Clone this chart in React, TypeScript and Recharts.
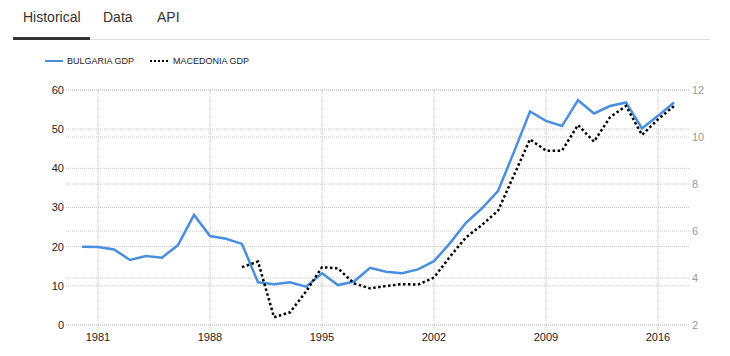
import { CartesianGrid, Line, LineChart, XAxis, YAxis } from "recharts";

const years = [
  1980, 1981, 1982, 1983, 1984, 1985, 1986, 1987, 1988, 1989, 1990, 1991, 1992,
  1993, 1994, 1995, 1996, 1997, 1998, 1999, 2000, 2001, 2002, 2003, 2004, 2005,
  2006, 2007, 2008, 2009, 2010, 2011, 2012, 2013, 2014, 2015, 2016, 2017
];

// USD billion, left axis
const bulgariaGdp = [
  20.0, 19.9, 19.3, 16.6, 17.6, 17.2, 20.4, 28.1, 22.7, 22.0, 20.7, 10.9, 10.4,
  10.9, 9.8, 13.2, 10.2, 11.1, 14.6, 13.6, 13.2, 14.2, 16.3, 20.9, 26.1, 29.8,
  34.2, 44.2, 54.5, 52.1, 50.8, 57.4, 54.0, 55.9, 56.8, 50.2, 53.4, 56.8
];

// USD billion, right axis (no data before 1990)
const macedoniaGdp = [
  null, null, null, null, null, null, null, null, null, null, 4.46, 4.7, 2.33,
  2.54, 3.42, 4.46, 4.41, 3.77, 3.56, 3.66, 3.74, 3.72, 4.02, 4.91, 5.73, 6.26,
  6.86, 8.38, 9.9, 9.42, 9.42, 10.51, 9.8, 10.84, 11.32, 10.09, 10.75, 11.32
];

const xTicks = [1981, 1988, 1995, 2002, 2009, 2016];
const leftTicks = [0, 10, 20, 30, 40, 50, 60];
const rightTicks = [2, 4, 6, 8, 10, 12];
const tabs = ["Historical", "Data", "API"];

const data = years.map((year, i) => ({
  year,
  bulgaria: bulgariaGdp[i],
  macedonia: macedoniaGdp[i]
}));

const FONT = "'Liberation Sans', Arial, sans-serif";
const BLUE = "#4a8fdd";

export default function App() {
  return (
    <div
      style={{
        position: "absolute",
        left: 0,
        top: 0,
        width: 730,
        height: 356,
        background: "#fff",
        fontFamily: FONT,
        overflow: "hidden"
      }}
    >
      <LineChart
        width={730}
        height={356}
        data={data}
        margin={{ top: 90, right: 10, bottom: 6, left: 26 }}
      >
        <CartesianGrid
          yAxisId="left"
          stroke="#c8c8c8"
          strokeDasharray="1 1"
          verticalValues={xTicks}
        />
        <CartesianGrid
          yAxisId="right"
          stroke="#c8c8c8"
          strokeDasharray="1 1"
          vertical={false}
        />
        <XAxis
          dataKey="year"
          type="number"
          domain={[1979, 2018]}
          ticks={xTicks}
          axisLine={false}
          tickLine={{ stroke: "#c8c8c8", strokeDasharray: "1 1" }}
          tickSize={5}
          tickMargin={3}
          height={25}
          tick={{ fill: "#222", fontSize: 11, fontFamily: FONT }}
        />
        <YAxis
          yAxisId="left"
          orientation="left"
          domain={[0, 60]}
          ticks={leftTicks}
          width={40}
          axisLine={false}
          tickLine={false}
          tickSize={0}
          tickMargin={2}
          tick={{ fill: "#222", fontSize: 11, fontFamily: FONT }}
        />
        <YAxis
          yAxisId="right"
          orientation="right"
          domain={[2, 12]}
          ticks={rightTicks}
          width={30}
          axisLine={false}
          tickLine={false}
          tickSize={0}
          tickMargin={2}
          tick={{ fill: "#9a9a9a", fontSize: 11, fontFamily: FONT }}
        />
        <Line
          yAxisId="left"
          dataKey="bulgaria"
          type="linear"
          stroke={BLUE}
          strokeWidth={2.5}
          dot={false}
          isAnimationActive={false}
        />
        <Line
          yAxisId="right"
          dataKey="macedonia"
          type="linear"
          stroke="#000"
          strokeWidth={2.5}
          strokeDasharray="2.5 2.5"
          dot={false}
          isAnimationActive={false}
        />
      </LineChart>

      {/* tabs */}
      <div style={{ position: "absolute", left: 13, top: 8, width: 697, height: 31, borderBottom: "1px solid #ddd" }} />
      <div style={{ position: "absolute", left: 13, top: 37, width: 77, height: 3, background: "#333" }} />
      {tabs.map((t, i) => (
        <div
          key={t}
          style={{
            position: "absolute",
            left: [23, 103, 157][i],
            top: 9,
            fontSize: 14,
            color: "#333",
            lineHeight: "16px"
          }}
        >
          {t}
        </div>
      ))}

      {/* legend */}
      <div style={{ position: "absolute", left: 45, top: 60, width: 18, height: 2, background: BLUE }} />
      <div style={{ position: "absolute", left: 67, top: 56, fontSize: 9, color: "#222", lineHeight: "10px" }}>
        BULGARIA GDP
      </div>
      <svg style={{ position: "absolute", left: 150, top: 59 }} width={20} height={4}>
        <line x1={0} y1={2} x2={19} y2={2} stroke="#000" strokeWidth={2} strokeDasharray="2 2" />
      </svg>
      <div style={{ position: "absolute", left: 173, top: 56, fontSize: 9, color: "#222", lineHeight: "10px" }}>
        MACEDONIA GDP
      </div>
    </div>
  );
}
